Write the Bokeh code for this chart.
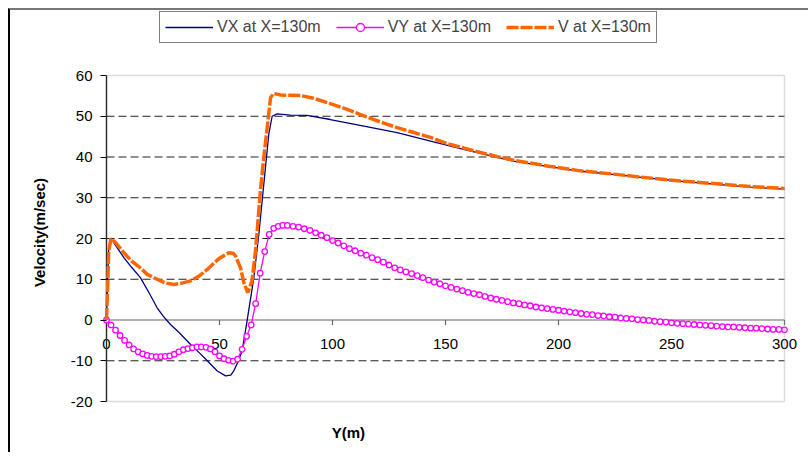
from bokeh.plotting import figure
from bokeh.models import (Range1d, FixedTicker, Legend, LegendItem, Label,
                          BoxAnnotation, Spacer)
from bokeh.layouts import column, row
from bokeh.core.properties import value
from bokeh.embed import file_html
from bokeh.resources import INLINE

# ---------------- data ----------------
vx_x = [0, 0.5, 1, 2, 4, 7.7, 11, 15, 19, 22.4, 25, 28.3, 32, 37.2, 41, 44.6, 49,
        52.7, 55, 56.3, 58, 60, 62.2, 65.2, 67.4, 69.6, 71.8, 73.3, 75.5, 81.4,
        88.8, 99, 113.9, 128.6, 143.4, 158, 172.9, 180, 195, 210, 225, 240, 255,
        270, 285, 300]
vx_y = [0, 10, 18, 20, 18.3, 15.3, 13, 10.4, 6.5, 3, 1, -1.1, -3, -6, -8, -10, -12.5,
        -13.7, -13.5, -12.5, -10.5, -7.6, -0.2, 10.4, 21, 33.3, 45.6, 50, 50.6, 50.3,
        50.2, 49.2, 47.6, 46, 43.9, 41.9, 39.9, 39.0, 37.7, 36.5, 35.7, 34.8, 34.0,
        33.3, 32.6, 32.1]

vy_x = [0, 2, 4, 6, 8, 10, 12, 14, 16, 18, 20, 22, 24, 26, 28, 30, 32, 34, 36, 38,
        40, 42, 44, 46, 48, 50, 52, 54, 56, 58, 60, 62, 64, 66, 68, 70, 72, 74, 76, 78,
        80, 82.5, 85, 87.5, 90, 92.5, 95, 97.5, 100, 102.5, 105, 107.5, 110, 112.5,
        115, 117.5, 120, 122.5, 125, 127.5, 130, 132.5, 135, 137.5, 140, 142.5, 145,
        147.5, 150, 152.5, 155, 157.5, 160, 162.5, 165, 167.5, 170, 172.5, 175, 177.5,
        180, 182.5, 185, 187.5, 190, 192.5, 195, 197.5, 200, 202.5, 205, 207.5, 210,
        212.5, 215, 217.5, 220, 222.5, 225, 227.5, 230, 232.5, 235, 237.5, 240, 242.5,
        245, 247.5, 250, 252.5, 255, 257.5, 260, 262.5, 265, 267.5, 270, 272.5, 275,
        277.5, 280, 282.5, 285, 287.5, 290, 292.5, 295, 297.5, 300]
vy_y = [0, -1.2, -2.5, -3.8, -5.0, -6.1, -7.1, -7.8, -8.3, -8.7, -8.9, -9.0, -9.0,
        -8.9, -8.8, -8.4, -7.8, -7.3, -7.0, -6.8, -6.6, -6.6, -6.7, -7.1, -7.8, -8.8,
        -9.5, -9.9, -10.1, -9.6, -7.2, -4.0, -1.2, 4.0, 11.5, 16.8, 21.0, 22.5, 23.0,
        23.2, 23.2, 23.0, 22.8, 22.4, 22.0, 21.4, 20.8, 20.2, 19.5, 18.9, 18.2, 17.5,
        17.0, 16.4, 15.9, 15.3, 14.8, 14.2, 13.5, 12.8, 12.3, 11.8, 11.4, 10.9, 10.4,
        9.8, 9.3, 8.9, 8.4, 8.0, 7.6, 7.2, 6.8, 6.5, 6.2, 5.8, 5.4, 5.1, 4.8, 4.5, 4.2,
        4.0, 3.7, 3.5, 3.2, 3.0, 2.8, 2.6, 2.4, 2.2, 2.0, 1.8, 1.6, 1.4, 1.3, 1.1, 1.0,
        0.8, 0.7, 0.5, 0.4, 0.3, 0.1, 0.0, -0.1, -0.3, -0.4, -0.5, -0.7, -0.8, -0.9,
        -1.0, -1.1, -1.2, -1.3, -1.4, -1.5, -1.6, -1.7, -1.7, -1.8, -1.9, -2.0, -2.0,
        -2.1, -2.2, -2.3, -2.3, -2.4]

v_x = [0, 0.5, 1, 2, 4, 7.7, 11, 15, 18, 22.4, 26, 29.8, 33, 37.2, 41, 44.6, 48, 50.4,
       54.1, 56, 57.1, 59.3, 60.8, 62.5, 64.4, 65.9, 66.6, 68.1, 69.6, 71.1, 72.6, 74,
       77, 85.8, 91.7, 99, 106.5, 113.9, 121.2, 128.6, 136, 143.4, 150.7, 158, 165.5,
       172.9, 180.2, 195, 209.7, 224.5, 239.2, 254, 268.7, 283.5, 300]
v_y = [0, 8, 17, 20, 19, 16.5, 14.5, 12.8, 11.2, 10, 9.1, 8.7, 9.0, 9.6, 10.8, 12.4,
       14.2, 15.3, 16.5, 16.4, 15.7, 12.8, 9.1, 6.7, 9.6, 16.9, 21.4, 31.7, 39.9, 47.2,
       54.6, 55.6, 55.2, 55.1, 54.4, 53.1, 51.7, 50.1, 48.6, 47.2, 46.0, 44.8, 43.3,
       42.2, 41.1, 40.1, 39.2, 37.8, 36.6, 35.8, 34.9, 34.1, 33.5, 32.8, 32.3]

x_ticks = [0, 50, 100, 150, 200, 250, 300]
x_tick_labels = ["0", "50", "100", "150", "200", "250", "300"]
y_ticks = [-20, -10, 0, 10, 20, 30, 40, 50, 60]
y_tick_labels = ["-20", "-10", "0", "10", "20", "30", "40", "50", "60"]
grid_ticks = [-10, 10, 20, 30, 40, 50]

labels = ["VX at X=130m", "VY at X=130m", "V at X=130m"]
x_title = "Y(m)"
y_title = "Velocity(m/sec)"

FONT = "Liberation Sans"
X0, X1 = x_ticks[0], x_ticks[-1]
Y0, Y1 = y_ticks[0], y_ticks[-1]

# the frame is a bit larger than the plotting area so that the legend,
# the x tick labels and the x title (all drawn inside it) are not clipped
p = figure(width=800, height=444, output_backend="svg", toolbar_location=None,
           x_range=Range1d(-2.655, 311.5), y_range=Range1d(-33.0, 75.95),
           min_border_left=90, min_border_right=0, min_border_top=0,
           min_border_bottom=0)
p.styles = {"border-top": "2px solid #777777", "border-left": "2px solid #000000"}
p.outline_line_color = None
p.xaxis.visible = False
p.xgrid.visible = False
p.ygrid.visible = False

# y axis (ticks point right, onto the value axis drawn at x = 0)
p.yaxis.ticker = FixedTicker(ticks=y_ticks)
p.yaxis.major_label_overrides = dict(zip(y_ticks, y_tick_labels))
p.yaxis.bounds = (Y0, Y1)
p.yaxis.axis_line_color = None
p.yaxis.major_tick_line_color = "black"
p.yaxis.major_tick_in = 6
p.yaxis.major_tick_out = 0
p.yaxis.minor_tick_line_color = None
p.yaxis.major_label_text_font = FONT
p.yaxis.major_label_text_font_size = "15px"
p.yaxis.major_label_text_color = "black"
p.yaxis.major_label_standoff = 8
p.yaxis.axis_label = y_title
p.yaxis.axis_label_text_font = FONT
p.yaxis.axis_label_text_font_size = "15px"
p.yaxis.axis_label_text_font_style = "bold"
p.yaxis.axis_label_text_color = "black"
p.yaxis.axis_label_standoff = 20

# horizontal dashed grid lines across the plotting area
n = len(grid_ticks)
p.segment(x0=[X0] * n, y0=grid_ticks, x1=[X1] * n, y1=grid_ticks,
          line_color="#222222", line_dash="8 4", line_width=1)

# plot-area border
p.add_layout(BoxAnnotation(left=X0, right=X1, bottom=Y0, top=Y1, fill_alpha=0,
                           line_color="#8c8c8c", line_width=1.5))

# x axis at y = 0 with its ticks and labels
p.segment(x0=[X0], y0=[0], x1=[X1], y1=[0], line_color="#666666", line_width=1.2)
m = len(x_ticks)
p.segment(x0=x_ticks, y0=[0] * m, x1=x_ticks, y1=[-1.25] * m,
          line_color="#666666", line_width=1.2)
p.text(x=x_ticks, y=[0] * m, text=x_tick_labels, text_align="center",
       text_baseline="top", y_offset=19, text_font=value(FONT),
       text_font_size="15px", text_color="black")

# y value axis line
p.segment(x0=[X0], y0=[Y0], x1=[X0], y1=[Y1], line_color="black", line_width=1.3)

# series
r_vx = p.line(vx_x, vx_y, line_color="#000080", line_width=1.3)
r_vy_l = p.line(vy_x, vy_y, line_color="#FF00FF", line_width=1.3)
r_vy_m = p.scatter(vy_x, vy_y, marker="circle", size=5.5, line_color="#FF00FF",
                   line_width=1.3, fill_color="white")
r_v = p.line(v_x, v_y, line_color="#FF6600", line_width=3.5, line_dash="12 2")

# x-axis title placed like the original
p.add_layout(Label(x=107, y=-27.7, text=x_title, text_align="center",
                   text_baseline="middle", text_font=FONT, text_font_size="15px",
                   text_font_style="bold", text_color="black"))

legend = Legend(items=[LegendItem(label=labels[0], renderers=[r_vx]),
                       LegendItem(label=labels[1], renderers=[r_vy_l, r_vy_m]),
                       LegendItem(label=labels[2], renderers=[r_v])],
                location=(59, 411), orientation="horizontal",
                border_line_color="black", border_line_width=1,
                padding=5, spacing=15, glyph_width=48, label_standoff=4,
                label_text_font=FONT, label_text_font_size="16px",
                margin=0, background_fill_color="white", background_fill_alpha=1)
p.add_layout(legend)

layout = column(Spacer(height=8), row(Spacer(width=8), p))
open("out.html", "w").write(file_html(layout, INLINE))
